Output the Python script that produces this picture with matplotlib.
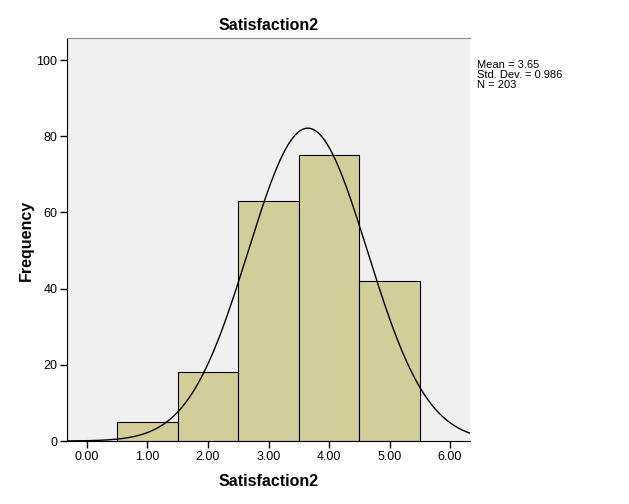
import numpy as np
import matplotlib
matplotlib.use("Agg")
import matplotlib.pyplot as plt

plt.rcParams['font.family'] = ['Liberation Sans', 'DejaVu Sans']

# Histogram data
bin_centers = [1, 2, 3, 4, 5]
counts = [5, 18, 63, 75, 42]
mean = 3.65
std = 0.986
n = 203
x_ticks = [0, 1, 2, 3, 4, 5, 6]
y_ticks = [0, 20, 40, 60, 80, 100]

fig = plt.figure(figsize=(6.29, 5.04), dpi=100)
ax = fig.add_axes([67 / 629, 63 / 504, 403 / 629, 403 / 504])
ax.set_facecolor('#F0F0F0')

ax.bar(bin_centers, counts, width=1.0, color='#D3CE99', edgecolor='black', linewidth=0.8, zorder=2)

# normal curve scaled to counts
xs = np.linspace(-0.33, 6.33, 400)
ys = n * 1.0 * np.exp(-0.5 * ((xs - mean) / std) ** 2) / (std * np.sqrt(2 * np.pi))
ax.plot(xs, ys, color='black', linewidth=1.0, zorder=3)

ax.set_xlim(-0.33, 6.33)
ax.set_ylim(0, 105.8)
ax.set_xticks(x_ticks)
ax.set_xticklabels([f'{v:.2f}' for v in x_ticks], fontsize=9)
ax.set_yticks(y_ticks)
ax.set_yticklabels([str(v) for v in y_ticks], fontsize=9)
ax.tick_params(axis='both', direction='out', length=5, width=1, pad=2)

ax.spines['right'].set_visible(False)
ax.spines['top'].set_color('#888888')
ax.spines['left'].set_color('black')
ax.spines['bottom'].set_color('black')

ax.set_title('Satisfaction2', fontsize=11.5, fontweight='bold', pad=6)
ax.set_xlabel('Satisfaction2', fontsize=11.5, fontweight='bold', labelpad=8)
fig.text(26 / 629, 1 - 240 / 504, 'Frequency', fontsize=11.5, fontweight='bold',
         rotation=90, ha='center', va='center')

fig.text(477 / 629, 1 - 75 / 504, f'Mean = {mean:.2f}\nStd. Dev. = {std:.3f}\nN = {n}',
         fontsize=8, va='center', ha='left', linespacing=1.05)

fig.savefig('out.png', dpi=100)
